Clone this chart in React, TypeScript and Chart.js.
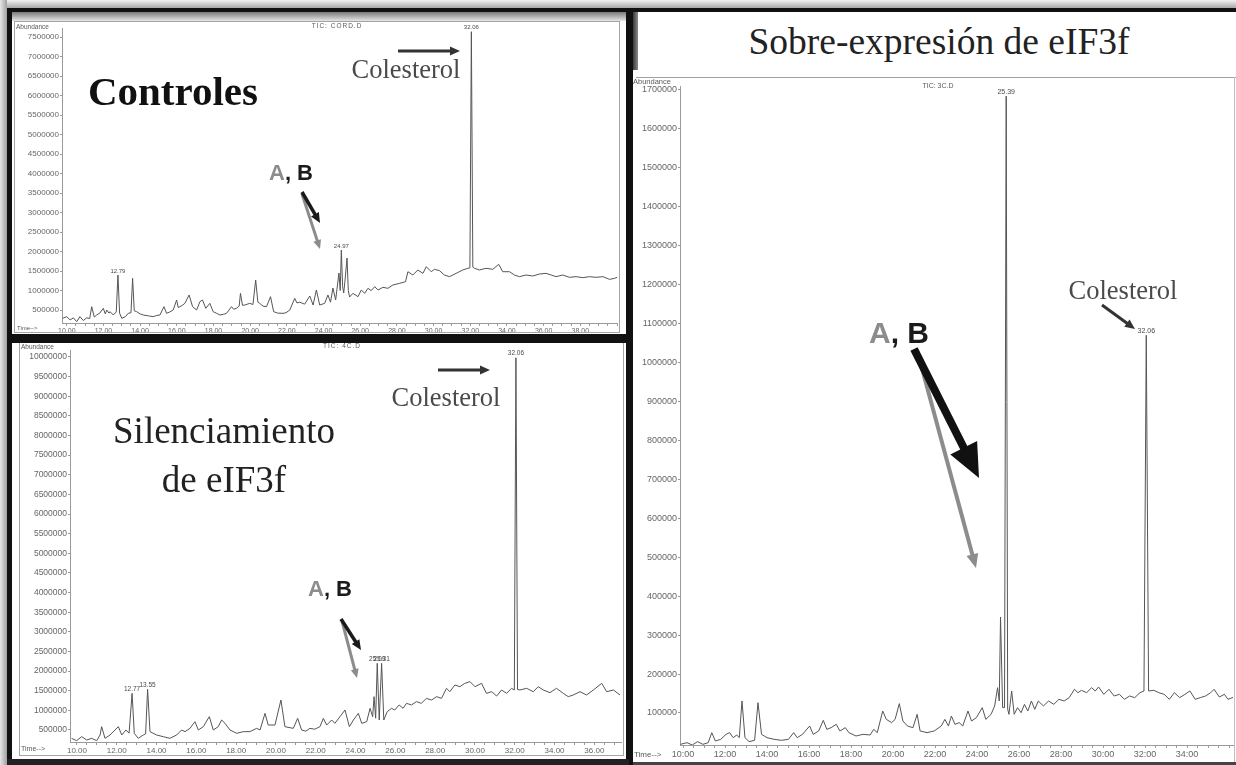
import React, { useEffect, useRef } from 'react';
import { Chart, registerables } from 'chart.js';

Chart.register(...registerables);

// ---------------- Controles (top-left) ----------------
const CTRL_TIME = [
  9.78, 10.0, 10.18, 10.36, 10.54, 10.72, 10.9, 11.09, 11.25, 11.36,
  11.5, 11.63, 11.8, 11.99, 12.1, 12.18, 12.3, 12.36, 12.54, 12.7,
  12.79, 12.88, 13.0, 13.2, 13.35, 13.5, 13.59, 13.68, 13.81, 14.0,
  14.17, 14.45, 14.71, 14.9, 15.08, 15.3, 15.44, 15.62, 15.8, 15.99,
  16.08, 16.17, 16.3, 16.44, 16.67, 16.86, 17.08, 17.26, 17.4, 17.58,
  17.8, 17.98, 18.15, 18.35, 18.55, 18.71, 18.98, 19.1, 19.25, 19.4,
  19.47, 19.58, 19.71, 19.98, 20.15, 20.3, 20.42, 20.52, 20.7, 20.89,
  21.11, 21.28, 21.5, 21.79, 21.95, 22.16, 22.43, 22.55, 22.7, 22.97,
  23.25, 23.43, 23.61, 23.79, 24.06, 24.24, 24.38, 24.51, 24.66, 24.84,
  24.91, 24.97, 25.04, 25.1, 25.18, 25.28, 25.35, 25.42, 25.6, 25.88,
  26.06, 26.24, 26.42, 26.6, 26.79, 26.97, 27.24, 27.51, 27.78, 28.15,
  28.47, 28.6, 28.87, 29.14, 29.42, 29.6, 29.87, 30.05, 30.32, 30.59,
  30.87, 31.23, 31.59, 31.87, 31.98, 32.06, 32.14, 32.23, 32.5, 32.86,
  33.23, 33.55, 33.77, 34.14, 34.41, 34.68, 35.04, 35.41, 35.77, 36.13,
  36.41, 36.68, 37.04, 37.41, 37.77, 38.14, 38.5, 38.86, 39.23, 39.59,
  39.87, 40.0,
];
const CTRL_ABUND = [
  287000, 329000, 244000, 300000, 200000, 330000, 230000, 300000, 280000, 585000,
  320000, 372000, 420000, 543000, 400000, 500000, 420000, 457000, 372000, 450000,
  1397000, 420000, 287000, 330000, 415000, 430000, 1312000, 480000, 457000, 400000,
  372000, 350000, 329000, 360000, 372000, 585000, 415000, 450000, 500000, 756000,
  560000, 585000, 620000, 671000, 885000, 585000, 500000, 714000, 756000, 543000,
  671000, 457000, 420000, 372000, 390000, 415000, 585000, 520000, 543000, 600000,
  927000, 620000, 628000, 671000, 640000, 1269000, 700000, 671000, 600000, 585000,
  842000, 457000, 420000, 415000, 430000, 500000, 799000, 680000, 700000, 650000,
  860000, 628000, 1013000, 628000, 671000, 885000, 700000, 1064000, 756000, 1449000,
  1000000, 2038000, 1100000, 936000, 1300000, 1833000, 1000000, 833000, 927000, 842000,
  1013000, 927000, 1056000, 996000, 1098000, 1013000, 1081000, 1056000, 1141000, 1184000,
  1226000, 1482000, 1397000, 1526000, 1440000, 1611000, 1482000, 1543000, 1509000, 1397000,
  1355000, 1440000, 1526000, 1569000, 1580000, 7636000, 1600000, 1569000, 1526000, 1569000,
  1543000, 1671000, 1482000, 1482000, 1397000, 1355000, 1397000, 1372000, 1423000, 1440000,
  1397000, 1355000, 1397000, 1338000, 1355000, 1329000, 1355000, 1338000, 1355000, 1286000,
  1312000, 1338000,
];
const CTRL_Y_TICKS = [
  500000, 1000000, 1500000, 2000000, 2500000, 3000000, 3500000, 4000000,
  4500000, 5000000, 5500000, 6000000, 6500000, 7000000, 7500000,
];
const CTRL_X_LABELS = [
  '10.00', '12.00', '14.00', '16.00', '18.00', '20.00', '22.00', '24.00',
  '26.00', '28.00', '30.00', '32.00', '34.00', '36.00', '38.00',
];
const CTRL_PEAK_TIMES = [12.79, 24.97, 32.06];
const CTRL_PEAK_LABELS = ['12.79', '24.97', '32.06'];

// ---------------- Silenciamiento de eIF3f (bottom-left) ----------------
const SIL_TIME = [
  9.73, 9.98, 10.24, 10.49, 10.74, 10.99, 11.16, 11.24, 11.41, 11.66,
  11.91, 12.08, 12.25, 12.46, 12.62, 12.77, 12.88, 13.08, 13.33, 13.45,
  13.55, 13.67, 14.0, 14.34, 14.67, 15.01, 15.26, 15.43, 15.68, 15.93,
  16.1, 16.35, 16.65, 16.85, 17.1, 17.27, 17.44, 17.69, 18.03, 18.36,
  18.69, 19.03, 19.2, 19.45, 19.61, 19.95, 20.25, 20.45, 20.87, 21.09,
  21.29, 21.5, 21.71, 21.95, 22.21, 22.38, 22.55, 22.8, 22.96, 23.22,
  23.47, 23.69, 23.89, 24.14, 24.31, 24.56, 24.73, 24.86, 24.93, 25.01,
  25.09, 25.19, 25.31, 25.42, 25.59, 25.81, 25.97, 26.19, 26.39, 26.56,
  26.81, 27.06, 27.31, 27.56, 27.82, 28.07, 28.32, 28.57, 28.74, 28.99,
  29.24, 29.49, 29.75, 30.0, 30.33, 30.58, 30.84, 31.09, 31.34, 31.59,
  31.84, 31.98, 32.06, 32.14, 32.26, 32.6, 32.93, 33.18, 33.43, 33.77,
  34.1, 34.44, 34.69, 34.94, 35.28, 35.61, 35.95, 36.37, 36.62, 36.96,
  37.29,
];
const SIL_ABUND = [
  288000, 228000, 330000, 245000, 288000, 228000, 373000, 585000, 288000, 373000,
  500000, 585000, 373000, 500000, 420000, 1434000, 415000, 288000, 373000, 400000,
  1536000, 458000, 373000, 330000, 288000, 373000, 500000, 458000, 542000, 712000,
  500000, 585000, 840000, 500000, 585000, 755000, 670000, 500000, 415000, 458000,
  458000, 542000, 500000, 924000, 627000, 627000, 1264000, 585000, 542000, 797000,
  500000, 470000, 542000, 520000, 585000, 797000, 627000, 755000, 670000, 840000,
  1009000, 585000, 755000, 924000, 670000, 712000, 1052000, 840000, 1349000, 800000,
  2198000, 755000, 2198000, 755000, 967000, 1052000, 1009000, 1137000, 1052000, 1179000,
  1137000, 1222000, 1179000, 1306000, 1264000, 1349000, 1306000, 1561000, 1476000, 1646000,
  1603000, 1688000, 1731000, 1603000, 1688000, 1434000, 1476000, 1366000, 1519000, 1434000,
  1561000, 1519000, 9980000, 1530000, 1519000, 1561000, 1476000, 1603000, 1519000, 1451000,
  1561000, 1434000, 1349000, 1391000, 1476000, 1391000, 1519000, 1688000, 1476000, 1519000,
  1391000,
];
const SIL_Y_TICKS = [
  500000, 1000000, 1500000, 2000000, 2500000, 3000000, 3500000, 4000000, 4500000, 5000000,
  5500000, 6000000, 6500000, 7000000, 7500000, 8000000, 8500000, 9000000, 9500000, 10000000,
];
const SIL_X_LABELS = [
  '10.00', '12.00', '14.00', '16.00', '18.00', '20.00', '22.00',
  '24.00', '26.00', '28.00', '30.00', '32.00', '34.00', '36.00',
];
const SIL_PEAK_TIMES = [12.77, 13.55, 25.09, 25.31, 32.06];
const SIL_PEAK_LABELS = ['12.77', '13.55', '25.09', '25.31', '32.06'];

// ---------------- Sobre-expresión de eIF3f (right) ----------------
const SOB_TIME = [
  9.88, 10.19, 10.44, 10.69, 10.95, 11.2, 11.37, 11.54, 11.8, 12.05,
  12.22, 12.39, 12.56, 12.68, 12.81, 12.95, 13.15, 13.41, 13.57, 13.74,
  14.0, 14.34, 14.68, 15.02, 15.27, 15.44, 15.69, 16.03, 16.2, 16.46,
  16.68, 16.85, 17.05, 17.3, 17.47, 17.73, 17.9, 18.24, 18.57, 18.91,
  19.08, 19.25, 19.51, 19.68, 19.93, 20.1, 20.3, 20.47, 20.69, 20.95,
  21.15, 21.29, 21.62, 21.96, 22.3, 22.47, 22.64, 22.78, 22.95, 23.15,
  23.32, 23.57, 23.74, 23.97, 24.25, 24.42, 24.67, 24.84, 24.98, 25.06,
  25.12, 25.22, 25.31, 25.39, 25.46, 25.52, 25.65, 25.77, 25.93, 26.1,
  26.26, 26.42, 26.59, 26.75, 26.92, 27.16, 27.41, 27.66, 27.9, 28.15,
  28.39, 28.64, 28.81, 28.97, 29.22, 29.46, 29.63, 29.79, 30.04, 30.28,
  30.53, 30.78, 31.02, 31.27, 31.51, 31.76, 31.95, 32.06, 32.17, 32.42,
  32.66, 32.91, 33.16, 33.4, 33.65, 33.9, 34.14, 34.39, 34.63, 34.88,
  35.13, 35.29, 35.54, 35.78, 35.95, 36.19,
];
const SOB_ABUND = [
  19500, 23800, 17800, 26400, 19500, 23800, 49500, 28100, 32400, 45200,
  49500, 36600, 43500, 36600, 130800, 36600, 26400, 29800, 126500, 45200,
  36600, 32400, 29800, 32400, 49500, 36600, 45200, 66600, 45200, 53800,
  81100, 58000, 62300, 70900, 53800, 62300, 49500, 40900, 45200, 43500,
  58000, 49500, 105100, 83700, 75200, 83700, 124000, 79400, 66600, 62300,
  96600, 53800, 49500, 53800, 66600, 83700, 66600, 92300, 70900, 75200,
  66600, 105100, 79400, 88000, 113700, 83700, 96600, 118000, 165000, 130800,
  346500, 113700, 113700, 1684000, 110000, 96600, 156500, 96600, 113700, 100800,
  122200, 105100, 130800, 109400, 130800, 118000, 130800, 122200, 135100, 130800,
  139400, 160800, 152200, 158200, 152200, 165000, 156500, 166700, 147900, 160800,
  143600, 147900, 135100, 143600, 139400, 152200, 156500, 1070000, 156500, 158200,
  152200, 147900, 135100, 152200, 139400, 147900, 156500, 135100, 139400, 143600,
  152200, 160800, 141000, 147900, 135100, 140000,
];
const SOB_Y_TICKS = [
  100000, 200000, 300000, 400000, 500000, 600000, 700000, 800000, 900000,
  1000000, 1100000, 1200000, 1300000, 1400000, 1500000, 1600000, 1700000,
];
const SOB_X_LABELS = [
  '10:00', '12:00', '14:00', '16:00', '18:00', '20:00', '22:00',
  '24:00', '26:00', '28:00', '30:00', '32:00', '34:00',
];
const SOB_PEAK_TIMES = [25.39, 32.06];
const SOB_PEAK_LABELS = ['25.39', '32.06'];

// ---------------- drawing ----------------
const SERIF = '"Liberation Serif", "Times New Roman", serif';
const SANS = '"Liberation Sans", Arial, sans-serif';

type CanvasText = { text: string; x: number; y: number; size: number; align?: CanvasTextAlign; spacing?: number };

type PanelCfg = {
  left: number; top: number; width: number; height: number;
  time: number[]; abund: number[];
  xMin: number; xMax: number; yMin: number; yMax: number;
  yTicks: number[]; xLabels: string[]; sep: string;
  yAxisW: number; xAxisH: number; padTop: number; padRight: number;
  xFont: number; yFont: number; peakFont: number;
  peakTimes: number[]; peakLabels: string[];
  texts: CanvasText[];
};

function makeAnnotPlugin(p: PanelCfg) {
  return {
    id: 'chromAnnot',
    afterDraw(chart: any) {
      const ctx = chart.ctx as CanvasRenderingContext2D;
      const xs = chart.scales.x;
      const ys = chart.scales.y;
      ctx.save();
      ctx.fillStyle = '#4a4a4a';
      ctx.font = `${p.peakFont}px ${SANS}`;
      ctx.textAlign = 'center';
      ctx.textBaseline = 'bottom';
      p.peakTimes.forEach((t, i) => {
        let bi = -1;
        for (let k = 0; k < p.time.length; k++) {
          if (Math.abs(p.time[k] - t) < 0.06 && (bi < 0 || p.abund[k] > p.abund[bi])) bi = k;
        }
        if (bi < 0) return;
        ctx.fillText(p.peakLabels[i], xs.getPixelForValue(p.time[bi]), ys.getPixelForValue(p.abund[bi]) - 1);
      });
      ctx.fillStyle = '#5a5a5a';
      p.texts.forEach((tx) => {
        ctx.font = `${tx.size}px ${SANS}`;
        ctx.textAlign = tx.align || 'left';
        ctx.textBaseline = 'middle';
        (ctx as any).letterSpacing = `${tx.spacing || 0}px`;
        ctx.fillText(tx.text, tx.x, tx.y);
      });
      ctx.restore();
    },
  };
}

function ChromPanel({ p }: { p: PanelCfg }) {
  const ref = useRef<HTMLCanvasElement>(null);
  useEffect(() => {
    if (!ref.current) return;
    const points = p.time.map((t, i) => ({ x: t, y: p.abund[i] }));
    const chart = new Chart(ref.current, {
      type: 'line',
      data: {
        datasets: [
          {
            data: points,
            borderColor: '#555555',
            borderWidth: 1,
            pointRadius: 0,
            tension: 0,
            fill: false,
          },
        ],
      },
      options: {
        animation: false,
        responsive: false,
        maintainAspectRatio: false,
        layout: { padding: { top: p.padTop, right: p.padRight, left: 0, bottom: 0 } },
        plugins: { legend: { display: false }, tooltip: { enabled: false }, title: { display: false } },
        scales: {
          x: {
            type: 'linear',
            min: p.xMin,
            max: p.xMax,
            afterBuildTicks: (scale: any) => {
              const ticks: { value: number }[] = [];
              for (let v = Math.ceil(p.xMin * 2) / 2; v <= p.xMax + 1e-9; v += 0.5) ticks.push({ value: v });
              scale.ticks = ticks;
            },
            afterFit: (scale: any) => {
              scale.height = p.xAxisH;
            },
            ticks: {
              autoSkip: false,
              maxRotation: 0,
              minRotation: 0,
              padding: 1,
              color: '#666',
              font: { family: SANS, size: p.xFont },
              callback: (v: any) => {
                const s = Number(v).toFixed(2).replace('.', p.sep);
                return p.xLabels.includes(s) ? s : '';
              },
            },
            grid: { drawOnChartArea: false, drawTicks: true, tickLength: 3, color: '#9a9a9a', lineWidth: 1 },
            border: { display: true, color: '#9a9a9a', width: 1 },
          } as any,
          y: {
            type: 'linear',
            min: p.yMin,
            max: p.yMax,
            afterBuildTicks: (scale: any) => {
              scale.ticks = p.yTicks.map((v) => ({ value: v }));
            },
            afterFit: (scale: any) => {
              scale.width = p.yAxisW;
            },
            ticks: {
              autoSkip: false,
              padding: 1,
              color: '#666',
              font: { family: SANS, size: p.yFont },
              callback: (v: any) => (p.yTicks.includes(Number(v)) ? String(v) : ''),
            },
            grid: { drawOnChartArea: false, drawTicks: true, tickLength: 2, color: '#9a9a9a', lineWidth: 1 },
            border: { display: true, color: '#9a9a9a', width: 1 },
          } as any,
        },
      },
      plugins: [makeAnnotPlugin(p)],
    } as any);
    return () => chart.destroy();
  }, []);
  return (
    <div style={{ position: 'absolute', left: p.left, top: p.top, width: p.width, height: p.height }}>
      <canvas ref={ref} width={p.width} height={p.height} style={{ display: 'block', width: p.width, height: p.height }} />
    </div>
  );
}

const CTRL_PANEL: PanelCfg = {
  left: 15, top: 22, width: 604, height: 310,
  time: CTRL_TIME, abund: CTRL_ABUND,
  xMin: 9.74, xMax: 40.0, yMin: 166700, yMax: 7731000,
  yTicks: CTRL_Y_TICKS, xLabels: CTRL_X_LABELS, sep: '.',
  yAxisW: 47, xAxisH: 9, padTop: 6, padRight: 2,
  xFont: 7, yFont: 8, peakFont: 6,
  peakTimes: CTRL_PEAK_TIMES, peakLabels: CTRL_PEAK_LABELS,
  texts: [
    { text: 'Abundance', x: 1, y: 5, size: 6.5 },
    { text: 'TIC: CORD.D', x: 322, y: 4.5, size: 6.5, align: 'center', spacing: 1 },
    { text: 'Time-->', x: 2, y: 306, size: 6 },
  ],
};

const SIL_PANEL: PanelCfg = {
  left: 20, top: 343, width: 603, height: 412,
  time: SIL_TIME, abund: SIL_ABUND,
  xMin: 9.65, xMax: 37.34, yMin: 194400, yMax: 10177000,
  yTicks: SIL_Y_TICKS, xLabels: SIL_X_LABELS, sep: '.',
  yAxisW: 50, xAxisH: 13, padTop: 7, padRight: 2,
  xFont: 8, yFont: 8.5, peakFont: 6.5,
  peakTimes: SIL_PEAK_TIMES, peakLabels: SIL_PEAK_LABELS,
  texts: [
    { text: 'Abundance', x: 1, y: 4, size: 6.5 },
    { text: 'TIC: 4C.D', x: 322, y: 3, size: 6.5, align: 'center', spacing: 1 },
    { text: 'Time-->', x: 1, y: 406, size: 7 },
  ],
};

const SOB_PANEL: PanelCfg = {
  left: 633, top: 78, width: 603, height: 687,
  time: SOB_TIME, abund: SOB_ABUND,
  xMin: 9.857, xMax: 36.19, yMin: 17800, yMax: 1710000,
  yTicks: SOB_Y_TICKS, xLabels: SOB_X_LABELS, sep: ':',
  yAxisW: 47, xAxisH: 20, padTop: 8, padRight: 3,
  xFont: 9, yFont: 9, peakFont: 7,
  peakTimes: SOB_PEAK_TIMES, peakLabels: SOB_PEAK_LABELS,
  texts: [
    { text: 'Abundance', x: 0, y: 4, size: 7.5 },
    { text: 'TIC: 3C.D', x: 305, y: 8, size: 7, align: 'center' },
    { text: 'Time-->', x: 1, y: 677, size: 8 },
  ],
};

function Label({ x, y, style, children }: { x: number; y: number; style: React.CSSProperties; children: React.ReactNode }) {
  return (
    <div
      style={{
        position: 'absolute',
        left: x,
        top: y,
        transform: 'translate(-50%, -50%)',
        whiteSpace: 'nowrap',
        lineHeight: 1,
        ...style,
      }}
    >
      {children}
    </div>
  );
}

function Arrow({ x1, y1, x2, y2, w, color, hl, hw }: { x1: number; y1: number; x2: number; y2: number; w: number; color: string; hl: number; hw: number }) {
  const dx = x2 - x1;
  const dy = y2 - y1;
  const L = Math.hypot(dx, dy);
  const ux = dx / L;
  const uy = dy / L;
  const bx = x2 - ux * hl;
  const by = y2 - uy * hl;
  const nx = -uy;
  const ny = ux;
  return (
    <g>
      <line x1={x1} y1={y1} x2={bx + ux} y2={by + uy} stroke={color} strokeWidth={w} />
      <polygon
        points={`${x2},${y2} ${bx + (nx * hw) / 2},${by + (ny * hw) / 2} ${bx - (nx * hw) / 2},${by - (ny * hw) / 2}`}
        fill={color}
      />
    </g>
  );
}

function abs(l: number, t: number, w: number, h: number, extra: React.CSSProperties = {}): React.CSSProperties {
  return { position: 'absolute', left: l, top: t, width: w, height: h, ...extra };
}

export default function App() {
  const AB_GRAY = '#8c8c8c';
  return (
    <div style={{ position: 'fixed', left: 0, top: 0, width: 1236, height: 765, overflow: 'hidden', background: '#fff' }}>
      {/* outer shading */}
      <div style={abs(0, 0, 1236, 8, { background: 'linear-gradient(#f2f2f2, #a8a8a8)' })} />
      <div style={abs(0, 0, 7, 765, { background: 'linear-gradient(to right, #e6e6e6, #a0a0a0)' })} />

      {/* charts */}
      <ChromPanel p={CTRL_PANEL} />
      <ChromPanel p={SIL_PANEL} />
      <ChromPanel p={SOB_PANEL} />

      {/* inner window frames */}
      <div style={abs(12, 12, 614, 9, { background: 'linear-gradient(#7a7a7a, #e6e6e6)' })} />
      <div style={abs(14, 21, 606, 312, { border: '1px solid #a5a5a5', boxSizing: 'border-box' })} />
      <div style={abs(19, 343, 605, 413, { border: '1px solid #a5a5a5', boxSizing: 'border-box', borderTop: 'none' })} />
      <div style={abs(636, 77, 600, 1, { background: '#a0a0a0' })} />
      <div style={abs(1234, 77, 1, 688, { background: '#c0c0c0' })} />

      {/* black borders */}
      <div style={abs(7, 8, 1229, 4, { background: '#111' })} />
      <div style={abs(7, 8, 5, 757, { background: '#111' })} />
      <div style={abs(626, 8, 7, 757, { background: '#111' })} />
      <div style={abs(633, 12, 5, 58, { background: 'linear-gradient(to right, #3a3a3a, #8a8a8a)' })} />
      <div style={abs(7, 334, 622, 9, { background: '#111' })} />
      <div style={abs(7, 759, 622, 6, { background: '#222' })} />
      <div style={abs(633, 762, 603, 3, { background: '#444' })} />

      {/* titles and annotations */}
      <Label x={173} y={91} style={{ fontFamily: SERIF, fontWeight: 'bold', fontSize: 41, color: '#111' }}>Controles</Label>
      <Label x={406} y={69} style={{ fontFamily: SERIF, fontSize: 26.5, color: '#4a4a4a' }}>Colesterol</Label>
      <Label x={291} y={173} style={{ fontFamily: SANS, fontWeight: 'bold', fontSize: 22 }}>
        <span style={{ color: AB_GRAY }}>A</span>
        <span style={{ color: '#1a1a1a' }}>, B</span>
      </Label>

      <Label x={224} y={430} style={{ fontFamily: SERIF, fontSize: 37, color: '#222' }}>Silenciamiento</Label>
      <Label x={224} y={479} style={{ fontFamily: SERIF, fontSize: 37, color: '#222' }}>de eIF3f</Label>
      <Label x={446} y={397} style={{ fontFamily: SERIF, fontSize: 26.5, color: '#4a4a4a' }}>Colesterol</Label>
      <Label x={330} y={589} style={{ fontFamily: SANS, fontWeight: 'bold', fontSize: 22 }}>
        <span style={{ color: AB_GRAY }}>A</span>
        <span style={{ color: '#1a1a1a' }}>, B</span>
      </Label>

      <Label x={939} y={42} style={{ fontFamily: SERIF, fontSize: 37.5, color: '#222' }}>Sobre-expresión de eIF3f</Label>
      <Label x={1123} y={290} style={{ fontFamily: SERIF, fontSize: 26.5, color: '#4a4a4a' }}>Colesterol</Label>
      <Label x={899} y={333} style={{ fontFamily: SANS, fontWeight: 'bold', fontSize: 30 }}>
        <span style={{ color: AB_GRAY }}>A</span>
        <span style={{ color: '#1a1a1a' }}>, B</span>
      </Label>

      <svg width={1236} height={765} style={{ position: 'absolute', left: 0, top: 0, pointerEvents: 'none' }}>
        {/* Controles */}
        <Arrow x1={398} y1={51} x2={460} y2={51} w={3} color="#333" hl={10} hw={9} />
        <Arrow x1={302} y1={194} x2={320} y2={249} w={3} color={AB_GRAY} hl={9} hw={8} />
        <Arrow x1={302} y1={192} x2={320} y2={223} w={3.5} color="#1a1a1a" hl={10} hw={9} />
        {/* Silenciamiento */}
        <Arrow x1={438} y1={370} x2={490} y2={370} w={3} color="#333" hl={10} hw={9} />
        <Arrow x1={342} y1={621} x2={357} y2={678} w={3} color={AB_GRAY} hl={9} hw={8} />
        <Arrow x1={341} y1={619} x2={361} y2={650} w={3.5} color="#1a1a1a" hl={10} hw={9} />
        {/* Sobre-expresión */}
        <Arrow x1={917} y1={350} x2={976} y2={568} w={4} color={AB_GRAY} hl={14} hw={12} />
        <Arrow x1={914} y1={349} x2={979} y2={478} w={8} color="#111" hl={34} hw={30} />
        <Arrow x1={1102} y1={305} x2={1135} y2={329} w={3} color="#333" hl={10} hw={9} />
      </svg>
    </div>
  );
}
